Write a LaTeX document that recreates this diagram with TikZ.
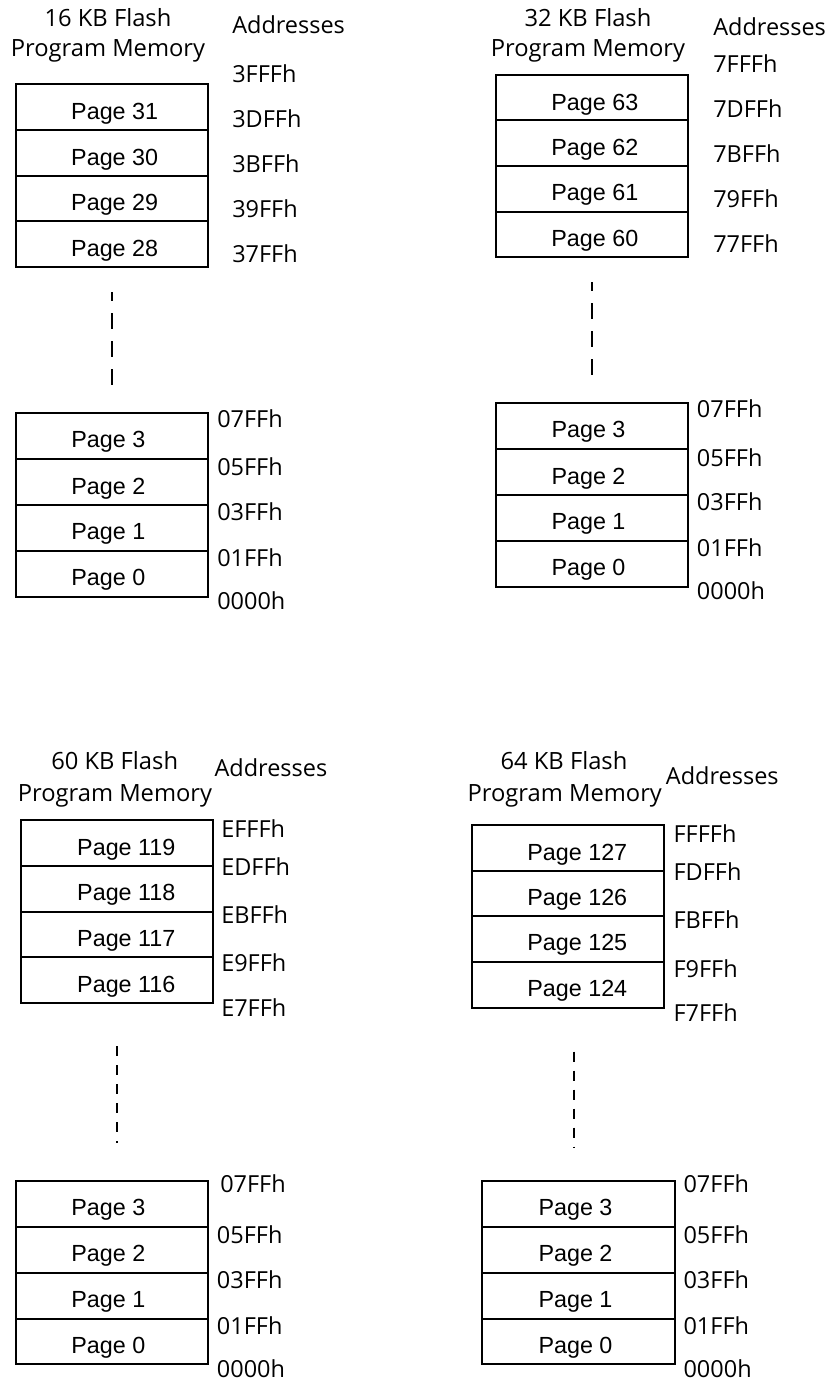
\documentclass[tikz,border=0pt]{standalone}
\usepackage{fontspec}
\setmainfont{Open Sans}
\newfontfamily\arialf{Liberation Sans}
\begin{document}
\begin{tikzpicture}[x=0.75pt,y=-0.75pt,
  ttl/.style={font=\fontsize{17.8}{20}\selectfont, inner sep=0pt, anchor=base},
  addr/.style={font=\fontsize{17.6}{20}\selectfont, inner sep=0pt, anchor=base west},
  pg/.style={font=\arialf\fontsize{17.5}{20}\selectfont, inner sep=0pt, anchor=base},
  frame/.style={line width=1.25pt},
  thk/.style={line width=1.8pt},
  dashA/.style={line width=1.5pt, dash pattern=on 12pt off 9pt},
  dashB/.style={line width=1.2pt, dash pattern=on 7.5pt off 6.75pt}]
\useasboundingbox (0,0) rectangle (828,1382);

% ---------- Panel 1 (16 KB) ----------
\node[ttl] (t1a) at (108,26) {16 KB Flash};
\node[ttl] (t1b) at (108,56.7) {Program Memory};
\node[addr] (a1) at (232,33.3) {Addresses};
\draw[frame] (16,84) rectangle (208,267.3);
\draw[frame] (16,130)--(208,130) (16,176)--(208,176) (16,221)--(208,221);
\node[pg] (p1a) at (114.7,119) {Page 31};
\node[pg] (p1b) at (114.7,165) {Page 30};
\node[pg] (p1c) at (114.7,210.5) {Page 29};
\node[pg] (p1d) at (114.7,256) {Page 28};
\node[addr] (a1a) at (232,82.7) {3FFFh};
\node[addr] (a1b) at (232,127.7) {3DFFh};
\node[addr] (a1c) at (232,172.7) {3BFFh};
\node[addr] (a1d) at (232,217.7) {39FFh};
\node[addr] (a1e) at (232,262.7) {37FFh};
\coordinate (d1s) at (111.7,292);
\coordinate (d1e) at (111.7,387);
\draw[dashA, dash phase=5pt] (d1s) -- (d1e);
\draw[frame] (16,412.7) rectangle (208,596.7);
\draw[frame] (16,459)--(208,459) (16,505)--(208,505) (16,550.7)--(208,550.7);
\node[pg] (q1a) at (108.3,447.8) {Page 3};
\node[pg] (q1b) at (108.3,494) {Page 2};
\node[pg] (q1c) at (108.3,539.8) {Page 1};
\node[pg] (q1d) at (108.3,585.7) {Page 0};
\node[addr] (b1a) at (217,427.7) {07FFh};
\node[addr] (b1b) at (217,475) {05FFh};
\node[addr] (b1c) at (217,520) {03FFh};
\node[addr] (b1d) at (217,566) {01FFh};
\node[addr] (b1e) at (217,609.3) {0000h};

% ---------- Panel 2 (32 KB) ----------
\node[ttl] (t2a) at (588,26) {32 KB Flash};
\node[ttl] (t2b) at (588,56.7) {Program Memory};
\node[addr] (a2) at (713,35) {Addresses};
\draw[frame] (495.7,75) rectangle (688,257.3);
\draw[frame] (495.7,120)--(688,120) (495.7,211.7)--(688,211.7);
\draw[thk] (495.7,165.7)--(688,165.7);
\node[pg] (p2a) at (594.8,110) {Page 63};
\node[pg] (p2b) at (594.8,155) {Page 62};
\node[pg] (p2c) at (594.8,200.7) {Page 61};
\node[pg] (p2d) at (594.8,246.5) {Page 60};
\node[addr] (a2a) at (713,72.7) {7FFFh};
\node[addr] (a2b) at (713,117.7) {7DFFh};
\node[addr] (a2c) at (713,162.7) {7BFFh};
\node[addr] (a2d) at (713,207.7) {79FFh};
\node[addr] (a2e) at (713,252.7) {77FFh};
\coordinate (d2s) at (592.3,282);
\coordinate (d2e) at (592.3,377);
\draw[dashA, dash phase=5pt] (d2s) -- (d2e);
\draw[frame] (495.7,402.7) rectangle (688,586.7);
\draw[frame] (495.7,449)--(688,449) (495.7,495)--(688,495) (495.7,540.7)--(688,540.7);
\node[pg] (q2a) at (588.5,437.8) {Page 3};
\node[pg] (q2b) at (588.5,484) {Page 2};
\node[pg] (q2c) at (588.5,529.8) {Page 1};
\node[pg] (q2d) at (588.5,575.7) {Page 0};
\node[addr] (b2a) at (696.7,417.7) {07FFh};
\node[addr] (b2b) at (696.7,466.7) {05FFh};
\node[addr] (b2c) at (696.7,510) {03FFh};
\node[addr] (b2d) at (696.7,556) {01FFh};
\node[addr] (b2e) at (696.7,599.3) {0000h};

% ---------- Panel 3 (60 KB) ----------
\node[ttl] (t3a) at (114.7,769.3) {60 KB Flash};
\node[ttl] (t3b) at (115,801.7) {Program Memory};
\node[addr] (a3) at (214.3,776) {Addresses};
\draw[frame] (20.7,820) rectangle (212.7,1003);
\draw[frame] (20.7,866)--(212.7,866) (20.7,957)--(212.7,957);
\draw[thk] (20.7,911.7)--(212.7,911.7);
\node[pg] (p3a) at (126.3,855) {Page 119};
\node[pg] (p3b) at (126.3,900.8) {Page 118};
\node[pg] (p3c) at (126.3,946.3) {Page 117};
\node[pg] (p3d) at (126.3,992) {Page 116};
\node[addr] (a3a) at (221,837.3) {EFFFh};
\node[addr] (a3b) at (221,875) {EDFFh};
\node[addr] (a3c) at (221,923.3) {EBFFh};
\node[addr] (a3d) at (221,971) {E9FFh};
\node[addr] (a3e) at (221,1016.7) {E7FFh};
\coordinate (d3s) at (116.7,1046);
\coordinate (d3e) at (116.7,1142.7);
\draw[dashB] (d3s) -- (d3e);
\draw[frame] (15.7,1181) rectangle (208.3,1364.3);
\draw[frame] (15.7,1226.7)--(208.3,1226.7) (15.7,1272.7)--(208.3,1272.7) (15.7,1318.7)--(208.3,1318.7);
\node[pg] (q3a) at (108.3,1215.8) {Page 3};
\node[pg] (q3b) at (108.3,1261.7) {Page 2};
\node[pg] (q3c) at (108.3,1307.7) {Page 1};
\node[pg] (q3d) at (108.3,1353.5) {Page 0};
\node[addr] (b3a) at (220,1192.7) {07FFh};
\node[addr] (b3b) at (216.7,1243.3) {05FFh};
\node[addr] (b3c) at (216.7,1288.3) {03FFh};
\node[addr] (b3d) at (216.7,1334.3) {01FFh};
\node[addr] (b3e) at (216.7,1377) {0000h};

% ---------- Panel 4 (64 KB) ----------
\node[ttl] (t4a) at (564,769.3) {64 KB Flash};
\node[ttl] (t4b) at (564.8,801.7) {Program Memory};
\node[addr] (a4) at (665.7,784.3) {Addresses};
\draw[frame] (471.7,825) rectangle (664,1007.7);
\draw[frame] (471.7,870.7)--(664,870.7) (471.7,961.7)--(664,961.7);
\draw[thk] (471.7,915.7)--(664,915.7);
\node[pg] (p4a) at (577.3,860) {Page 127};
\node[pg] (p4b) at (577.3,905) {Page 126};
\node[pg] (p4c) at (577.3,950.7) {Page 125};
\node[pg] (p4d) at (577.3,996.7) {Page 124};
\node[addr] (a4a) at (673.3,842.7) {FFFFh};
\node[addr] (a4b) at (673.3,880) {FDFFh};
\node[addr] (a4c) at (673.3,928.3) {FBFFh};
\node[addr] (a4d) at (673.3,977.3) {F9FFh};
\node[addr] (a4e) at (673.3,1021) {F7FFh};
\coordinate (d4s) at (574,1051.7);
\coordinate (d4e) at (574,1147.3);
\draw[dashB] (d4s) -- (d4e);
\draw[frame] (481.7,1181) rectangle (674.7,1364.3);
\draw[frame] (481.7,1226.7)--(674.7,1226.7) (481.7,1272.7)--(674.7,1272.7) (481.7,1318.7)--(674.7,1318.7);
\node[pg] (q4a) at (575.5,1215.8) {Page 3};
\node[pg] (q4b) at (575.5,1261.7) {Page 2};
\node[pg] (q4c) at (575.5,1307.7) {Page 1};
\node[pg] (q4d) at (575.5,1353.5) {Page 0};
\node[addr] (b4a) at (683.3,1192.7) {07FFh};
\node[addr] (b4b) at (683.3,1243.3) {05FFh};
\node[addr] (b4c) at (683.3,1288.3) {03FFh};
\node[addr] (b4d) at (683.3,1334.3) {01FFh};
\node[addr] (b4e) at (683.3,1377) {0000h};
\end{tikzpicture}
\end{document}
